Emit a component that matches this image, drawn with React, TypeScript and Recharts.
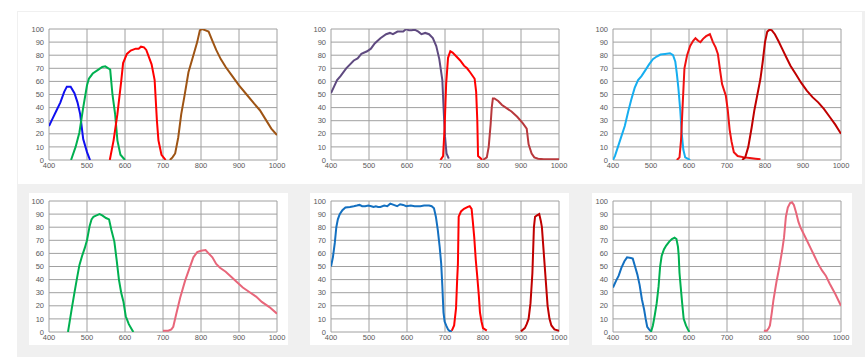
import { LineChart, Line, XAxis, YAxis, CartesianGrid } from "recharts";

type Pt = [number, number];

const xTicks = [400, 500, 600, 700, 800, 900, 1000];
const yTicks = [0, 10, 20, 30, 40, 50, 60, 70, 80, 90, 100];

// top left
const tlBlue: Pt[] = [[400,26],[410,32],[420,38],[430,44],[440,52],[447,56],[457,56],[467,51],[475,44],[482,35],[490,16],[500,6],[508,0]];
const tlGreen: Pt[] = [[458,0],[470,10],[480,21],[490,40],[500,57],[505,62],[515,66],[530,69],[540,71],[548,71.5],[556,70],[561,69],[567,50],[574,35],[580,15],[588,4],[600,0]];
const tlRed: Pt[] = [[560,0],[570,15],[580,35],[590,60],[595,74],[605,81],[615,83.5],[628,85],[636,85],[642,86.5],[650,86],[656,84],[670,73],[678,61],[684,30],[688,15],[696,4],[707,0]];
const tlBrown: Pt[] = [[718,0],[725,2],[732,5],[740,17],[748,35],[756,48],[767,67],[780,80],[790,90],[797,99],[803,100],[812,99],[820,98],[830,91],[840,84],[852,77],[865,71],[880,65],[900,57],[920,50],[940,43],[955,38],[970,31],[985,24],[1000,19]];

// top middle
const tmPurple: Pt[] = [[400,51],[408,56],[416,61],[425,64],[440,70],[460,76],[470,77.5],[480,81],[495,83],[505,85],[515,89],[530,93],[545,96],[555,97],[563,96],[575,98],[590,98],[598,100],[605,99],[612,99],[620,99.5],[630,98],[638,96],[648,97],[658,96],[668,93],[677,87],[685,77],[693,61],[697,35],[700,18],[704,5],[710,1]];
const tmRed: Pt[] = [[688,0],[695,3],[699,25],[703,58],[708,78],[714,83],[720,82],[730,79],[740,76],[750,72],[758,70],[766,67],[778,62],[782,52],[785,30],[787,3],[795,1],[797,0]];
const tmDarkRed: Pt[] = [[800,0],[810,2],[815,10],[820,27],[823,40],[826,47],[830,47],[840,45],[850,42],[860,40],[875,37],[890,33],[905,28],[915,24],[920,12],[928,5],[935,2],[945,1],[960,0.5],[1000,0.5]];

// top right
const trCyan: Pt[] = [[400,0],[405,3],[413,10],[422,18],[431,26],[440,37],[448,46],[457,55],[466,61],[475,64],[484,68],[495,73],[505,77],[515,79],[525,80.5],[537,81],[550,81.5],[558,80],[564,75],[568,66],[572,55],[577,38],[581,20],[585,8],[590,2],[600,0.5],[603,0]];
const trRed: Pt[] = [[568,0],[575,2],[579,15],[583,40],[588,70],[595,80],[603,87],[611,91],[617,93],[624,91],[630,90],[637,92.5],[645,94.5],[655,96],[663,90],[670,86],[676,81],[682,68],[687,58],[697,49],[702,38],[707,23],[712,14],[718,6],[728,3],[745,2],[760,1.5],[775,1],[788,0.5]];
const trDarkRed: Pt[] = [[740,0],[748,2],[756,10],[765,25],[772,38],[780,50],[788,62],[794,75],[800,90],[806,98],[812,99.5],[818,99],[826,96],[835,91],[845,85],[855,79],[867,72],[880,66],[895,59],[910,53],[925,48],[940,44],[955,39],[970,33],[985,27],[1000,20]];

// bottom left
const blGreen: Pt[] = [[450,0],[455,9],[460,18],[467,30],[473,40],[480,51],[487,58],[494,64],[500,70],[507,81],[512,86],[517,88],[525,89],[533,90],[540,89],[550,87],[558,86],[564,78],[572,69],[578,55],[584,40],[590,30],[596,23],[602,12],[610,6],[618,2],[622,0]];
const blPink: Pt[] = [[700,1],[714,1],[722,2],[727,4],[735,14],[745,26],[758,39],[770,49],[780,57],[790,61],[800,62],[812,62.5],[820,60],[830,57],[840,52],[850,49],[865,46],[880,42],[895,38],[910,34],[930,30],[945,27],[960,23],[980,19],[1000,14]];

// bottom middle
const bmBlue: Pt[] = [[400,50],[405,57],[410,68],[414,80],[418,86],[423,90],[430,93],[438,95],[450,95.5],[460,96],[468,96.5],[475,97],[482,96],[490,96],[498,96.5],[506,96],[512,95.5],[518,96],[524,95.5],[530,95.5],[540,96.5],[548,96],[556,98],[565,97],[574,96],[582,97.5],[590,97],[598,96],[610,96.5],[620,96],[635,96],[645,96.5],[658,96.5],[665,96],[671,94.5],[676,88],[681,78],[686,65],[690,52],[693,35],[696,15],[699,8],[703,5],[708,2],[713,0.5],[718,1]];
const bmRed: Pt[] = [[718,1],[724,5],[729,18],[732,40],[734,52],[736,88],[742,92],[750,94],[760,95.5],[765,96],[770,94],[773,85],[777,72],[781,55],[785,42],[789,28],[792,15],[796,8],[800,3],[810,1]];
const bmDarkRed: Pt[] = [[900,0.5],[910,3],[915,6],[920,10],[925,22],[930,45],[934,80],[937,88],[942,89],[948,90],[952,85],[955,80],[960,60],[965,40],[970,20],[975,10],[980,5],[988,2],[1000,1]];

// bottom right
const brBlue: Pt[] = [[400,34],[408,39],[415,43],[422,49],[430,54],[437,57],[447,56.5],[452,56],[458,50],[464,44],[470,36],[476,25],[482,17],[486,10],[490,4],[495,2],[500,0.5]];
const brGreen: Pt[] = [[500,0],[505,5],[510,13],[515,22],[520,35],[524,50],[528,58],[534,63],[540,66],[548,69],[555,71],[562,72],[567,71],[571,65],[573,58],[575,45],[578,35],[582,22],[586,10],[592,5],[597,2],[601,0]];
const brPink: Pt[] = [[797,1],[805,1],[810,3],[813,5],[818,15],[822,24],[830,38],[838,50],[845,62],[850,72],[855,88],[860,95],[866,98.5],[871,99],[876,97],[882,91],[888,84],[893,80],[900,76],[910,70],[920,64],[930,58],[940,52],[950,47],[960,43],[970,37],[985,29],[1000,20]];

interface Series { pts: Pt[]; color: string }

const tick = { fontSize: 7.5, fill: "#595959", fontFamily: "Liberation Sans, Arial, sans-serif" };

function Panel({ left, top, series }: { left: number; top: number; series: Series[] }) {
  return (
    <div style={{ position: "absolute", left: left - 35, top: top - 5 }}>
      <LineChart width={278} height={151} margin={{ top: 5, right: 15, left: 0, bottom: 0 }}>
        <CartesianGrid stroke="#a0a0a0" strokeWidth={1} />
        <XAxis type="number" dataKey="x" domain={[400, 1000]} ticks={xTicks} allowDataOverflow
          height={15} tickSize={0} tickMargin={3} axisLine={false} tick={tick} interval={0} />
        <YAxis type="number" domain={[0, 100]} ticks={yTicks} allowDataOverflow
          width={35} tickSize={0} tickMargin={5} axisLine={false} tick={tick} interval={0} />
        {series.map((s, i) => (
          <Line key={i} data={s.pts.map(([x, y]) => ({ x, y }))} dataKey="y" type="linear"
            stroke={s.color} strokeWidth={2} dot={false} isAnimationActive={false} />
        ))}
      </LineChart>
    </div>
  );
}

export default function App() {
  return (
    <div style={{ position: "absolute", left: 0, top: 0, width: 865, height: 357, background: "#fff", overflow: "hidden" }}>
      <div style={{ position: "absolute", left: 17, top: 11, width: 848, height: 346, background: "#f0f0f0" }} />
      <div style={{ position: "absolute", left: 18, top: 12, width: 844, height: 172, background: "#fff" }} />
      <div style={{ position: "absolute", left: 29, top: 193, width: 259, height: 152, background: "#fff" }} />
      <div style={{ position: "absolute", left: 310, top: 193, width: 259, height: 152, background: "#fff" }} />
      <div style={{ position: "absolute", left: 592, top: 193, width: 260, height: 152, background: "#fff" }} />

      <Panel left={49} top={29} series={[
        { pts: tlBlue, color: "#1010f0" },
        { pts: tlGreen, color: "#00b050" },
        { pts: tlRed, color: "#ff0000" },
        { pts: tlBrown, color: "#9e5414" },
      ]} />
      <Panel left={331} top={29} series={[
        { pts: tmPurple, color: "#5f4a80" },
        { pts: tmRed, color: "#ff0000" },
        { pts: tmDarkRed, color: "#b8383c" },
      ]} />
      <Panel left={613} top={29} series={[
        { pts: trCyan, color: "#16aef0" },
        { pts: trRed, color: "#f01010" },
        { pts: trDarkRed, color: "#c00000" },
      ]} />
      <Panel left={49} top={201} series={[
        { pts: blGreen, color: "#00b050" },
        { pts: blPink, color: "#e8667a" },
      ]} />
      <Panel left={331} top={201} series={[
        { pts: bmBlue, color: "#1470c0" },
        { pts: bmRed, color: "#ff0000" },
        { pts: bmDarkRed, color: "#c00000" },
      ]} />
      <Panel left={613} top={201} series={[
        { pts: brBlue, color: "#1470c0" },
        { pts: brGreen, color: "#00b050" },
        { pts: brPink, color: "#e8667a" },
      ]} />
    </div>
  );
}
